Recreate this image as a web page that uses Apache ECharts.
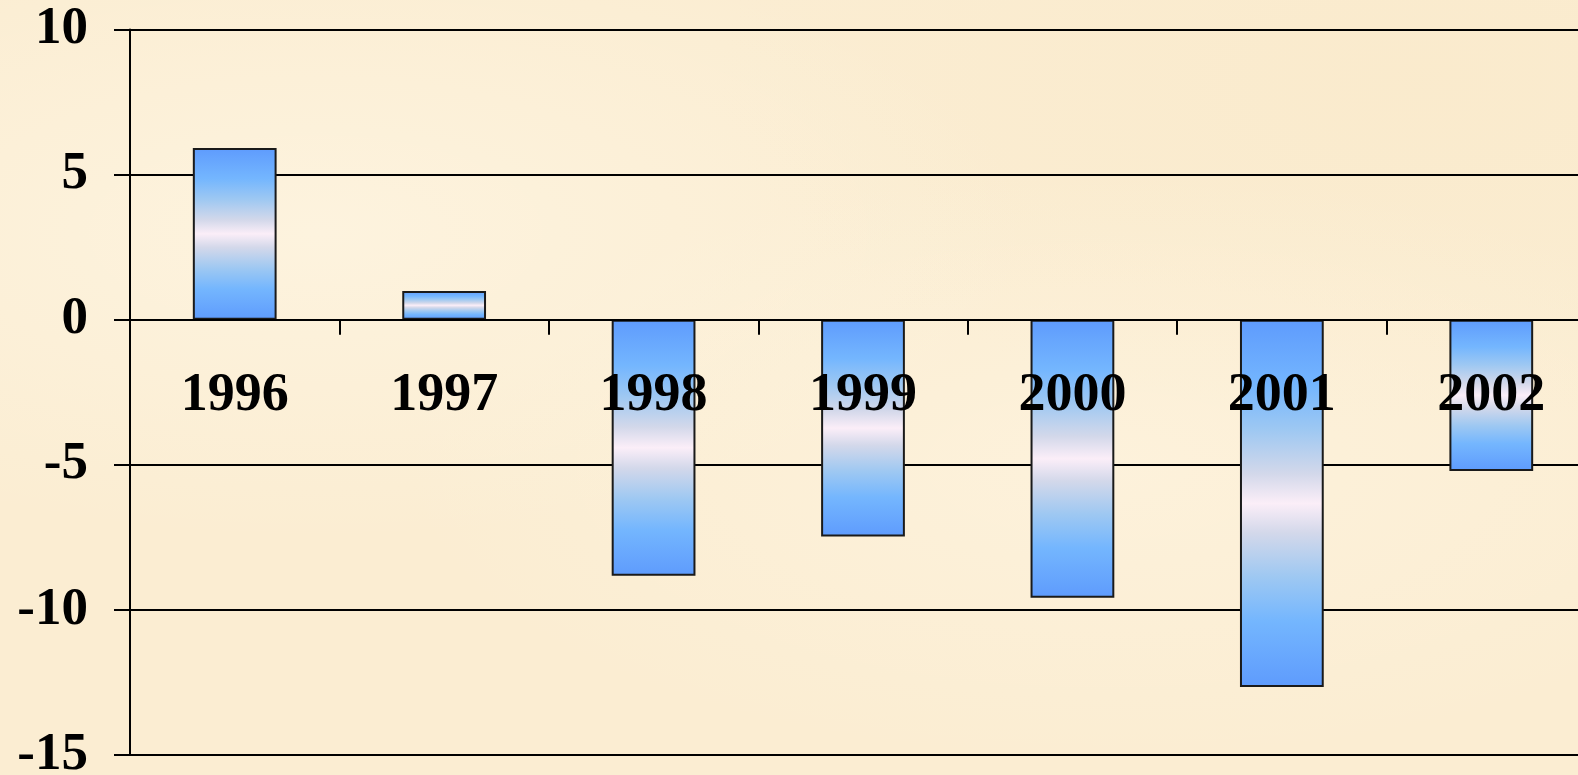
<!DOCTYPE html>
<html>
<head>
<meta charset="utf-8">
<script src="https://cdn.jsdelivr.net/npm/echarts@6/dist/echarts.min.js"></script>
<style>
html, body {
  margin: 0;
  padding: 0;
}
body {
  background-color: #fbedd2;
  background-image:
    radial-gradient(ellipse at 20% 30%, rgba(255, 248, 232, 0.55), rgba(255, 248, 232, 0) 40%),
    radial-gradient(ellipse at 70% 60%, rgba(255, 246, 228, 0.5), rgba(255, 246, 228, 0) 45%),
    radial-gradient(ellipse at 90% 10%, rgba(248, 230, 195, 0.35), rgba(248, 230, 195, 0) 35%);
}
#chart {
  width: 1578px;
  height: 775px;
}
</style>
</head>
<body>
<div id="chart"></div>
<script>
// 年份和数值
var years = ['1996', '1997', '1998', '1999', '2000', '2001', '2002'];
var values = [5.92, 0.99, -8.82, -7.47, -9.58, -12.66, -5.21];
var yTicks = [-15, -10, -5, 0, 5, 10];

var chart = echarts.init(document.getElementById('chart'));

var barFill = new echarts.graphic.LinearGradient(0, 0, 0, 1, [
  { offset: 0, color: '#5e9bfd' },
  { offset: 0.18, color: '#74b6fe' },
  { offset: 0.3, color: '#9ec8f2' },
  { offset: 0.42, color: '#d3d8ea' },
  { offset: 0.5, color: '#fbeef8' },
  { offset: 0.58, color: '#d3d8ea' },
  { offset: 0.7, color: '#9ec8f2' },
  { offset: 0.82, color: '#74b6fe' },
  { offset: 1, color: '#5e9bfd' }
]);

var fontFamily = '"Liberation Serif", "Times New Roman", serif';

var gridTop = 29.5, gridBottom = 20;
var plotH = 775 - gridTop - gridBottom;
// x轴放在0的位置
var zeroOffset = plotH * (0 - yTicks[0]) / (yTicks[yTicks.length - 1] - yTicks[0]);

var option = {
  backgroundColor: 'transparent',
  animation: false,
  grid: {
    left: 130,
    right: -18,
    top: gridTop,
    bottom: gridBottom,
    outerBoundsMode: 'none'
  },
  xAxis: {
    type: 'category',
    data: years,
    position: 'bottom',
    offset: -zeroOffset,
    z: 5,
    axisLine: { onZero: false, lineStyle: { color: '#000', width: 2 } },
    axisTick: { show: true, length: 15, interval: 0, lineStyle: { color: '#000', width: 2 } },
    axisLabel: {
      margin: 49,
      interval: 0,
      hideOverlap: false,
      fontFamily: fontFamily,
      fontWeight: 'bold',
      fontSize: 54,
      color: '#000'
    },
    splitLine: { show: false }
  },
  yAxis: {
    type: 'value',
    min: yTicks[0],
    max: yTicks[yTicks.length - 1],
    interval: 5,
    axisLine: { show: true, lineStyle: { color: '#000', width: 2 } },
    axisTick: { show: true, length: 16, lineStyle: { color: '#000', width: 2 } },
    axisLabel: {
      margin: 42,
      fontFamily: fontFamily,
      fontWeight: 'bold',
      fontSize: 53,
      color: '#000'
    },
    splitLine: { show: true, lineStyle: { color: '#000', width: 2 } }
  },
  series: [
    {
      type: 'bar',
      data: values,
      barWidth: '40%',
      itemStyle: {
        color: barFill,
        borderColor: '#1a1a1a',
        borderWidth: 2
      }
    }
  ]
};

chart.setOption(option);
</script>
</body>
</html>
